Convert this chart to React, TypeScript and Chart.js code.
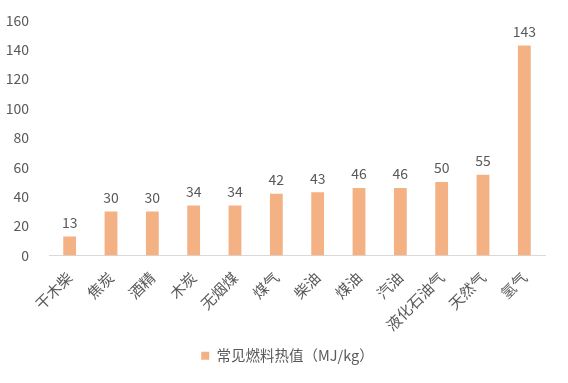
import React, { useEffect, useRef } from "react";
import { Chart, registerables } from "chart.js";

Chart.register(...registerables);

const categories = ["干木柴", "焦炭", "酒精", "木炭", "无烟煤", "煤气", "柴油", "煤油", "汽油", "液化石油气", "天然气", "氢气"];
const values = [13, 30, 30, 34, 34, 42, 43, 46, 46, 50, 55, 143];
const seriesName = "常见燃料热值（MJ/kg）";
const yTicks = { min: 0, max: 160, step: 20 };

const FONT = "'Noto Sans CJK SC', 'Microsoft YaHei', sans-serif";
const TEXT = "#595959";
const BAR = "#F4B183";

const valueLabels = {
  id: "valueLabels",
  afterDatasetsDraw(chart: any) {
    const ctx = chart.ctx;
    const meta = chart.getDatasetMeta(0);
    ctx.save();
    ctx.font = `14px ${FONT}`;
    ctx.fillStyle = TEXT;
    ctx.textAlign = "center";
    ctx.textBaseline = "bottom";
    meta.data.forEach((el: any, i: number) => {
      ctx.fillText(String(values[i]), el.x, el.y - 7);
    });
    ctx.restore();
  },
};

const legendShift = {
  id: "legendShift",
  afterLayout(chart: any) {
    if (chart.legend) {
      chart.legend.left += 15;
      chart.legend.right += 15;
    }
  },
};

export default function App() {
  const ref = useRef<HTMLCanvasElement | null>(null);
  useEffect(() => {
    document.body.style.margin = "0";
    const chart = new Chart(ref.current!, {
      type: "bar",
      data: {
        labels: categories,
        datasets: [
          {
            label: seriesName,
            data: values,
            backgroundColor: BAR,
            barPercentage: 0.62,
            categoryPercentage: 0.5,
          },
        ],
      },
      options: {
        animation: false,
        responsive: false,
        layout: { padding: { top: 19, right: 23, left: 0, bottom: 10 } },
        scales: {
          x: {
            grid: { display: false },
            border: { display: true, color: "#D9D9D9", width: 1 },
            ticks: {
              color: TEXT,
              font: { family: FONT, size: 15 },
              minRotation: 45,
              maxRotation: 45,
              autoSkip: false,
              padding: 5,
            },
            afterFit: (axis: any) => {
              axis.height = 83;
            },
          },
          y: {
            min: yTicks.min,
            max: yTicks.max,
            grid: { display: false },
            border: { display: false },
            ticks: {
              stepSize: yTicks.step,
              color: TEXT,
              font: { family: FONT, size: 14 },
              padding: 12,
            },
            afterFit: (axis: any) => {
              axis.width = 49;
            },
          },
        },
        plugins: {
          legend: {
            position: "bottom",
            labels: {
              color: TEXT,
              font: { family: FONT, size: 14.5 },
              boxWidth: 8,
              boxHeight: 8,
              padding: 10,
            },
          },
          tooltip: { enabled: false },
        },
      },
      plugins: [valueLabels, legendShift],
    });
    return () => chart.destroy();
  }, []);
  return (
    <div style={{ position: "absolute", left: 0, top: 0, width: 568, height: 383, background: "#fff" }}>
      <canvas ref={ref} width={568} height={383} />
    </div>
  );
}
